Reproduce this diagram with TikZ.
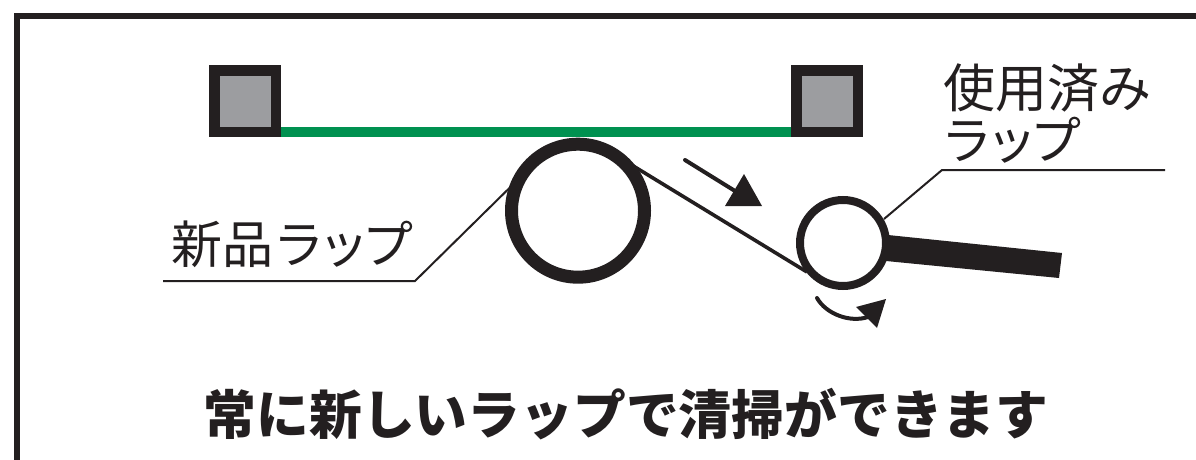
\documentclass[tikz,border=0pt]{standalone}
\usepackage{fontspec}
\setmainfont{Noto Sans CJK JP}
\newfontfamily\tightcjk[LetterSpace=-12]{Noto Sans CJK JP}
\definecolor{ink}{HTML}{231F20}
\definecolor{wrapgreen}{HTML}{009150}
\definecolor{holder}{HTML}{9C9DA0}
\tikzset{
  thinlead/.style={draw=ink,line width=2pt},
  holderbox/.style={draw=ink,fill=holder,line width=10.5pt,minimum size=61.5pt,inner sep=0pt,shape=rectangle},
  roll/.style={draw=ink,fill=white,shape=circle,inner sep=0pt},
  label/.style={inner sep=0pt,text=ink,anchor=center},
  tip/.style={fill=ink,draw=none}
}
\begin{document}
\begin{tikzpicture}[x=1pt,y=-1pt]
\useasboundingbox (0,0) rectangle (1196,460);
% frame
\draw[draw=ink,line width=5.5pt] (17.2,460) -- (17.2,16.2) -- (1196,16.2);
% holders and green wrap
\node[holderbox] (hl) at (245,101) {};
\node[holderbox] (hr) at (827,101) {};
\fill[wrapgreen] (281,127) rectangle (791,137);
% leaders
\coordinate (lk) at (415,281);
\coordinate (le) at (163,281);
\coordinate (rk) at (942,170);
\coordinate (re) at (1165,170);
\coordinate (wa) at (630,164);
\coordinate (wb) at (807,272);
% wrap run
\draw[draw=ink,line width=3.6pt] (wa) -- (wb);
% handle
\fill[ink] (888,235) -- (1062,253) -- (1059,278) -- (886,261) -- cycle;
% rolls
\node[roll,line width=13pt,minimum size=133pt] (big) at (578,210.7) {};
\node[roll,line width=8pt,minimum size=86pt] (small) at (843,243) {};
\draw[thinlead] (big.center)++(-52,-39)  -- (lk) -- (le);
\draw[thinlead] (small.center)++(41,-24) -- (rk) -- (re);
% travel arrow
\coordinate (ta) at (685,160);
\coordinate (tb) at (735,191);
\draw[draw=ink,line width=4pt,line cap=round] (ta) -- (tb);
\fill[tip] (744,174) -- (725,206) -- (762,206) -- cycle;
% rotation arrow
\coordinate (ra) at (817,298);
\coordinate (rb) at (868,317);
\draw[draw=ink,line width=4pt,line cap=round] (ra) .. controls (826,314) and (850,323) .. (rb);
\fill[tip] (886,299) -- (856,307) -- (877,328) -- cycle;
% labels
\node[label,anchor=west,font=\fontsize{52}{52}\selectfont] (t1) at (943,87.5) {使用済み};
\node[label,anchor=west,font=\fontsize{51}{51}\selectfont\tightcjk] (t2) at (941,140.5) {ラップ};
\node[label,anchor=west,font=\fontsize{51}{51}\selectfont] (t3) at (171,244.5) {新品{\tightcjk ラップ}};
\node[label,font=\fontsize{52.8}{53}\selectfont\bfseries] (t4) at (626,414) {常に新しいラップで清掃ができます};
\end{tikzpicture}
\end{document}
